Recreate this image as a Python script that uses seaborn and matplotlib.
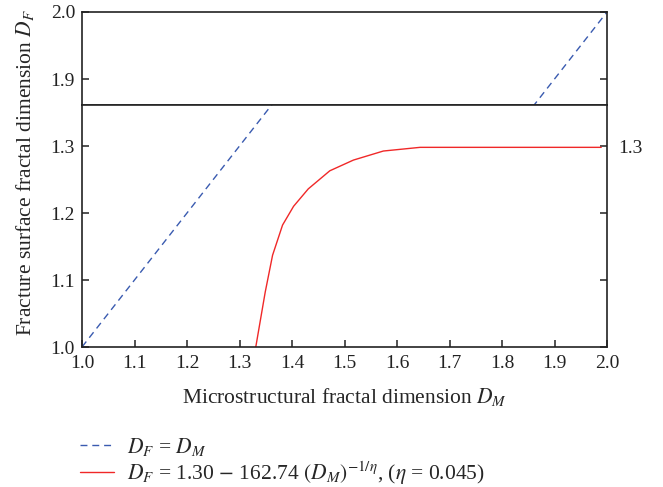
import matplotlib
matplotlib.use("Agg")
import matplotlib.pyplot as plt
import seaborn as sns
import numpy as np

# ---- data ----
dm_identity = [1.0, 2.0]
df_identity = [1.0, 2.0]

dm_model = [1.331, 1.349, 1.363, 1.382, 1.403, 1.431, 1.472, 1.517, 1.574, 1.644, 1.70, 1.80, 1.90, 1.989]
df_model = [1.000, 1.082, 1.137, 1.182, 1.210, 1.236, 1.263, 1.279, 1.2925, 1.298, 1.298, 1.298, 1.298, 1.298]

x_ticks = [1.0, 1.1, 1.2, 1.3, 1.4, 1.5, 1.6, 1.7, 1.8, 1.9, 2.0]
y_ticks_low = [1.0, 1.1, 1.2, 1.3]
y_ticks_high = [1.9, 2.0]

label_identity = r"$D_F$ = $D_M$"
label_model = r"$D_F$ = 1.30 $-$ 162.74 $(D_M)^{-1/\eta}$, ($\eta$ = 0.045)"

# ---- style ----
sns.set_style("ticks")
plt.rcParams["font.family"] = ["Liberation Serif", "DejaVu Serif"]
plt.rcParams["mathtext.fontset"] = "stix"
plt.rcParams["axes.linewidth"] = 1.2
plt.rcParams["axes.edgecolor"] = "#222222"
plt.rcParams["xtick.color"] = "#222222"
plt.rcParams["ytick.color"] = "#222222"

blue = "#3a5bb0"
red = "#f02828"
TICK_FS = 14
LABEL_FS = 15.5

W, H = 663, 487
fig = plt.figure(figsize=(W / 100, H / 100), dpi=100)

left = 82 / W
right = 607 / W
y_top = 1 - 12 / H
y_break = 1 - 105 / H
y_bot = 1 - 347 / H

ax_top = fig.add_axes([left, y_break, right - left, y_top - y_break])
ax_bot = fig.add_axes([left, y_bot, right - left, y_break - y_bot])

for ax in (ax_top, ax_bot):
    sns.lineplot(x=dm_identity, y=df_identity, ax=ax, color=blue, lw=1.0,
                 linestyle=(0, (5, 3.5)), label=label_identity, legend=False)
    sns.lineplot(x=dm_model, y=df_model, ax=ax, color=red, lw=1.0,
                 label=label_model, legend=False)
    ax.set_xlim(1.0, 2.0)
    ax.set_xlabel("")
    ax.set_ylabel("")
    for s in ax.spines.values():
        s.set_visible(True)

ax_top.set_ylim(1.8612, 2.0)
ax_bot.set_ylim(1.0, 1.3612)

ax_top.set_yticks(y_ticks_high, labels=[f"{v:.1f}" for v in y_ticks_high])
ax_bot.set_yticks(y_ticks_low, labels=[f"{v:.1f}" for v in y_ticks_low])
ax_bot.set_xticks(x_ticks, labels=[f"{v:.1f}" for v in x_ticks])
ax_top.set_xticks([])

ax_top.tick_params(axis="y", direction="in", left=True, right=True, length=5, width=1.1,
                   labelsize=TICK_FS, pad=5)
ax_bot.tick_params(axis="y", direction="in", left=True, right=True, length=5, width=1.1,
                   labelsize=TICK_FS, pad=5)
ax_bot.tick_params(axis="x", direction="in", bottom=True, top=False, length=5, width=1.1,
                   labelsize=TICK_FS, pad=6)

# right-side label "1.3" only
sec = ax_bot.secondary_yaxis("right")
sec.set_yticks([1.3], labels=["1.3"])
sec.tick_params(direction="in", length=0, labelsize=TICK_FS, pad=8)
sec.spines["right"].set_visible(False)

ax_bot.set_xlabel(r"Microstructural fractal dimension $D_M$", fontsize=LABEL_FS, labelpad=10)
fig.text(25 / W, 1 - 173 / H, r"Fracture surface fractal dimension $D_F$",
         rotation=90, ha="center", va="center", fontsize=LABEL_FS)

handles, labels = ax_bot.get_legend_handles_labels()
fig.legend(handles, labels, loc="upper left", bbox_to_anchor=(80 / W, 1 - 436 / H),
           frameon=False, fontsize=LABEL_FS, handlelength=1.6, handletextpad=0.6,
           labelspacing=0.05, borderaxespad=0, borderpad=0)

fig.savefig("out.png", dpi=100)
